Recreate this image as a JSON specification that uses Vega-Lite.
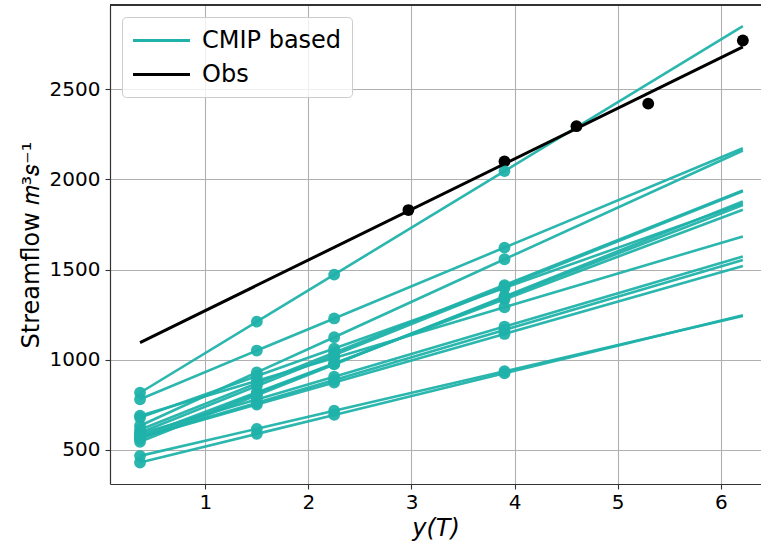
{
  "$schema": "https://vega.github.io/schema/vega-lite/v6.json",
  "autosize": {"type": "none"},
  "width": 651,
  "height": 479,
  "padding": {"left": 110, "top": 5, "right": 0, "bottom": 61},
  "background": "white",
  "config": {
    "font": "DejaVu Sans",
    "view": {"stroke": null},
    "axis": {
      "labelFont": "DejaVu Sans",
      "titleFont": "DejaVu Sans",
      "labelFontSize": 20,
      "titleFontSize": 24,
      "titleFontWeight": "normal",
      "labelColor": "black",
      "titleColor": "black",
      "domainColor": "#333333",
      "domainWidth": 1.2,
      "tickColor": "#333333",
      "tickSize": 5,
      "tickWidth": 1.1,
      "gridColor": "#b0b0b0",
      "gridWidth": 1.1,
      "gridOpacity": 1
    }
  },
  "data": {
    "values": [
      {"series": "CMIP based", "id": "m1", "x": 0.367, "v": 817, "mk": true},
      {"series": "CMIP based", "id": "m1", "x": 1.5, "v": 1211, "mk": true},
      {"series": "CMIP based", "id": "m1", "x": 2.25, "v": 1472, "mk": true},
      {"series": "CMIP based", "id": "m1", "x": 3.902, "v": 2046, "mk": true},
      {"series": "CMIP based", "id": "m1", "x": 6.214, "v": 2850, "mk": false},
      {"series": "CMIP based", "id": "m2", "x": 0.367, "v": 781, "mk": true},
      {"series": "CMIP based", "id": "m2", "x": 1.5, "v": 1051, "mk": true},
      {"series": "CMIP based", "id": "m2", "x": 2.25, "v": 1229, "mk": true},
      {"series": "CMIP based", "id": "m2", "x": 3.902, "v": 1622, "mk": true},
      {"series": "CMIP based", "id": "m2", "x": 6.214, "v": 2173, "mk": false},
      {"series": "CMIP based", "id": "m3", "x": 0.367, "v": 634, "mk": true},
      {"series": "CMIP based", "id": "m3", "x": 1.5, "v": 930, "mk": true},
      {"series": "CMIP based", "id": "m3", "x": 2.25, "v": 1125, "mk": true},
      {"series": "CMIP based", "id": "m3", "x": 3.902, "v": 1557, "mk": true},
      {"series": "CMIP based", "id": "m3", "x": 6.214, "v": 2160, "mk": false},
      {"series": "CMIP based", "id": "m4", "x": 0.367, "v": 612, "mk": true},
      {"series": "CMIP based", "id": "m4", "x": 1.5, "v": 869, "mk": true},
      {"series": "CMIP based", "id": "m4", "x": 2.25, "v": 1039, "mk": true},
      {"series": "CMIP based", "id": "m4", "x": 3.902, "v": 1414, "mk": true},
      {"series": "CMIP based", "id": "m4", "x": 6.214, "v": 1939, "mk": false},
      {"series": "CMIP based", "id": "m5", "x": 0.367, "v": 595, "mk": true},
      {"series": "CMIP based", "id": "m5", "x": 1.5, "v": 854, "mk": true},
      {"series": "CMIP based", "id": "m5", "x": 2.25, "v": 1026, "mk": true},
      {"series": "CMIP based", "id": "m5", "x": 3.902, "v": 1405, "mk": true},
      {"series": "CMIP based", "id": "m5", "x": 6.214, "v": 1934, "mk": false},
      {"series": "CMIP based", "id": "m6", "x": 0.367, "v": 680, "mk": true},
      {"series": "CMIP based", "id": "m6", "x": 1.5, "v": 910, "mk": true},
      {"series": "CMIP based", "id": "m6", "x": 2.25, "v": 1062, "mk": true},
      {"series": "CMIP based", "id": "m6", "x": 3.902, "v": 1398, "mk": true},
      {"series": "CMIP based", "id": "m6", "x": 6.214, "v": 1867, "mk": false},
      {"series": "CMIP based", "id": "m7", "x": 0.367, "v": 560, "mk": true},
      {"series": "CMIP based", "id": "m7", "x": 1.5, "v": 812, "mk": true},
      {"series": "CMIP based", "id": "m7", "x": 2.25, "v": 978, "mk": true},
      {"series": "CMIP based", "id": "m7", "x": 3.902, "v": 1345, "mk": true},
      {"series": "CMIP based", "id": "m7", "x": 6.214, "v": 1858, "mk": false},
      {"series": "CMIP based", "id": "m8", "x": 0.367, "v": 575, "mk": true},
      {"series": "CMIP based", "id": "m8", "x": 1.5, "v": 819, "mk": true},
      {"series": "CMIP based", "id": "m8", "x": 2.25, "v": 980, "mk": true},
      {"series": "CMIP based", "id": "m8", "x": 3.902, "v": 1335, "mk": true},
      {"series": "CMIP based", "id": "m8", "x": 6.214, "v": 1832, "mk": false},
      {"series": "CMIP based", "id": "m9", "x": 0.367, "v": 690, "mk": true},
      {"series": "CMIP based", "id": "m9", "x": 1.5, "v": 883, "mk": true},
      {"series": "CMIP based", "id": "m9", "x": 2.25, "v": 1010, "mk": true},
      {"series": "CMIP based", "id": "m9", "x": 3.902, "v": 1291, "mk": true},
      {"series": "CMIP based", "id": "m9", "x": 6.214, "v": 1684, "mk": false},
      {"series": "CMIP based", "id": "m10", "x": 0.367, "v": 590, "mk": true},
      {"series": "CMIP based", "id": "m10", "x": 1.5, "v": 780, "mk": true},
      {"series": "CMIP based", "id": "m10", "x": 2.25, "v": 906, "mk": true},
      {"series": "CMIP based", "id": "m10", "x": 3.902, "v": 1184, "mk": true},
      {"series": "CMIP based", "id": "m10", "x": 6.214, "v": 1572, "mk": false},
      {"series": "CMIP based", "id": "m11", "x": 0.367, "v": 571, "mk": true},
      {"series": "CMIP based", "id": "m11", "x": 1.5, "v": 761, "mk": true},
      {"series": "CMIP based", "id": "m11", "x": 2.25, "v": 887, "mk": true},
      {"series": "CMIP based", "id": "m11", "x": 3.902, "v": 1165, "mk": true},
      {"series": "CMIP based", "id": "m11", "x": 6.214, "v": 1553, "mk": false},
      {"series": "CMIP based", "id": "m12", "x": 0.367, "v": 567, "mk": true},
      {"series": "CMIP based", "id": "m12", "x": 1.5, "v": 752, "mk": true},
      {"series": "CMIP based", "id": "m12", "x": 2.25, "v": 874, "mk": true},
      {"series": "CMIP based", "id": "m12", "x": 3.902, "v": 1143, "mk": true},
      {"series": "CMIP based", "id": "m12", "x": 6.214, "v": 1520, "mk": false},
      {"series": "CMIP based", "id": "m13", "x": 0.367, "v": 467, "mk": true},
      {"series": "CMIP based", "id": "m13", "x": 1.5, "v": 617, "mk": true},
      {"series": "CMIP based", "id": "m13", "x": 2.25, "v": 717, "mk": true},
      {"series": "CMIP based", "id": "m13", "x": 3.902, "v": 936, "mk": true},
      {"series": "CMIP based", "id": "m13", "x": 6.214, "v": 1243, "mk": false},
      {"series": "CMIP based", "id": "m14", "x": 0.367, "v": 430, "mk": true},
      {"series": "CMIP based", "id": "m14", "x": 1.5, "v": 589, "mk": true},
      {"series": "CMIP based", "id": "m14", "x": 2.25, "v": 694, "mk": true},
      {"series": "CMIP based", "id": "m14", "x": 3.902, "v": 925, "mk": true},
      {"series": "CMIP based", "id": "m14", "x": 6.214, "v": 1247, "mk": false},
      {"series": "CMIP based", "id": "m15", "x": 0.367, "v": 545, "mk": true},
      {"series": "CMIP based", "id": "m15", "x": 1.5, "v": 803, "mk": true},
      {"series": "CMIP based", "id": "m15", "x": 2.25, "v": 974, "mk": true},
      {"series": "CMIP based", "id": "m15", "x": 3.902, "v": 1351, "mk": true},
      {"series": "CMIP based", "id": "m15", "x": 6.214, "v": 1878, "mk": false},
      {"series": "Obs", "id": "obs", "x": 0.367, "v": 1095, "mk": false},
      {"series": "Obs", "id": "obs", "x": 6.214, "v": 2735, "mk": false},
      {"series": "Obs", "id": "obspts", "x": 2.970, "v": 1830, "mk": true},
      {"series": "Obs", "id": "obspts", "x": 3.902, "v": 2100, "mk": true},
      {"series": "Obs", "id": "obspts", "x": 4.600, "v": 2295, "mk": true},
      {"series": "Obs", "id": "obspts", "x": 5.296, "v": 2420, "mk": true},
      {"series": "Obs", "id": "obspts", "x": 6.214, "v": 2770, "mk": true}
    ]
  },
  "encoding": {
    "x": {
      "field": "x", "type": "quantitative",
      "scale": {"domain": [0.0757, 6.39], "nice": false, "zero": false},
      "axis": {"values": [1, 2, 3, 4, 5, 6], "title": "y(T)", "titleFontStyle": "italic", "labelPadding": 3, "titlePadding": 4, "format": "d", "labelFlush": false}
    },
    "y": {
      "field": "v", "type": "quantitative",
      "scale": {"domain": [311, 2967], "nice": false, "zero": false},
      "axis": {"values": [500, 1000, 1500, 2000, 2500], "title": "Streamflow 𝑚³𝑠⁻¹", "labelPadding": 5, "titlePadding": 6, "format": "d", "labelFlush": false}
    },
    "color": {
      "field": "series", "type": "nominal",
      "scale": {"domain": ["CMIP based", "Obs"], "range": ["#20b2aa", "#000000"]},
      "legend": {
        "title": null, "orient": "none", "legendX": 12, "legendY": 12,
        "symbolType": "M-2.4,0H2.4", "symbolSize": 564, "symbolStrokeWidth": 3,
        "symbolOpacity": 1, "symbolOffset": 16,
        "labelFontSize": 24, "labelFont": "DejaVu Sans", "labelColor": "black",
        "labelOffset": 27, "padding": 10, "rowPadding": 8,
        "strokeColor": "#cccccc", "fillColor": "rgba(255,255,255,0.8)", "cornerRadius": 4
      }
    }
  },
  "layer": [
    {
      "transform": [{"filter": "datum.series == 'CMIP based'"}],
      "mark": {"type": "line", "strokeWidth": 2.6, "opacity": 0.95},
      "encoding": {
        "detail": {"field": "id"},
        "order": {"field": "x"}
      }
    },
    {
      "transform": [{"filter": "datum.id == 'obspts'"}],
      "mark": {"type": "point", "filled": true, "opacity": 1, "size": 140}
    },
    {
      "transform": [{"filter": "datum.series == 'CMIP based' && datum.mk"}],
      "mark": {"type": "point", "filled": true, "opacity": 0.95, "size": 140}
    },
    {
      "transform": [{"filter": "datum.id == 'obs'"}],
      "mark": {"type": "line", "strokeWidth": 3},
      "encoding": {"order": {"field": "x"}}
    },
    {
      "mark": {"type": "rule", "color": "#333333", "strokeWidth": 1.2},
      "encoding": {"y": {"datum": 2967}, "x": null, "color": null}
    }
  ]
}
